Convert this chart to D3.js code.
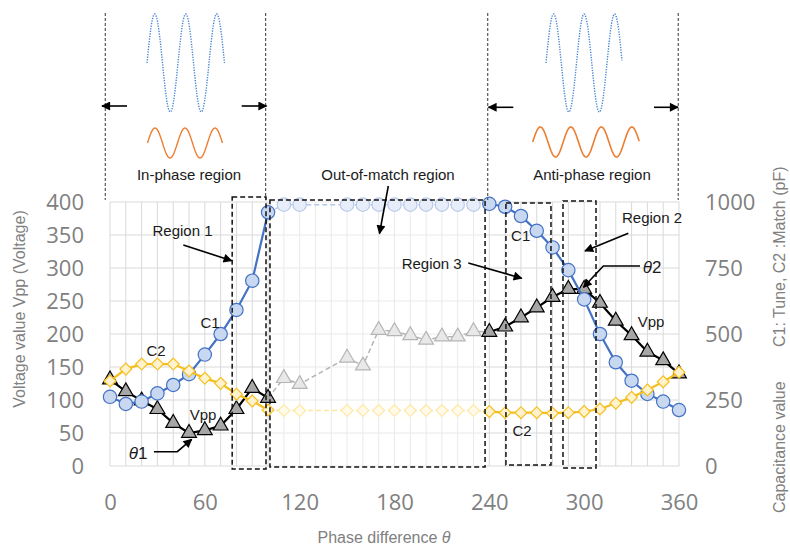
<!DOCTYPE html>
<html><head><meta charset="utf-8">
<script src="https://cdn.jsdelivr.net/npm/d3@7"></script>
<style>body{margin:0;background:#fff}svg{display:block}</style>
</head><body><svg id="c" width="790" height="549"></svg>
<script>
// ---- data ----
const theta = [0,10,20,30,40,50,60,70,80,90,100,110,120,150,160,170,180,190,200,210,220,230,240,250,260,270,280,290,300,310,320,330,340,350,360];
const vpp = [131,113,99,86,65,50,54,61,86,118,103, 133,124,164,152,206,204,198,191,196,196,204, 203,211,225,240,256,268,268,247,220,198,173,160,140];
const c1 = [262,235,244,275,307,348,422,500,591,702,961, 990,990,990,990,990,990,990,990,990,990,990, 993,982,947,891,828,742,631,500,393,323,273,244,212];
const c2 = [322,367,386,386,386,360,332,313,272,246,212, 210,210,210,210,210,210,210,210,210,210,210, 206,202,202,202,200,202,206,216,238,260,288,319,355];
const xTicks = [0,60,120,180,240,300,360];
const yLeftTicks = [0,50,100,150,200,250,300,350,400];
const yRightTicks = [0,250,500,750,1000];
const matchedEnd = 10, matchedStart = 22; // indices: solid 0..10 and 22..34, faded in between
const regionBoxes = [[77.3,98.7],[101.2,237.3],[250.5,279],[286.6,307.5]];
const regionDividers = [-3,98.5,239,359.5];

// ---- scales ----
const svg = d3.select('#c');
const x = d3.scaleLinear().domain([0,360]).range([110,679]);
const yL = d3.scaleLinear().domain([0,400]).range([466,202]);
const yR = d3.scaleLinear().domain([0,1000]).range([466,202]);

// defs
const defs = svg.append('defs');
defs.append('marker').attr('id','ah').attr('markerUnits','userSpaceOnUse')
  .attr('viewBox','0 0 10 10').attr('refX',9).attr('refY',5)
  .attr('markerWidth',11).attr('markerHeight',9).attr('orient','auto')
  .append('path').attr('d','M0,0 L10,5 L0,10 z').attr('fill','#000');

// grid
const grid = svg.append('g');
grid.selectAll('line.v').data(d3.range(0,361,10)).join('line')
  .attr('x1',d=>x(d)).attr('x2',d=>x(d)).attr('y1',yL(400)).attr('y2',yL(0))
  .attr('stroke','#d9d9d9').attr('stroke-width',1);
grid.selectAll('line.h').data(yLeftTicks).join('line')
  .attr('x1',x(0)).attr('x2',x(360)).attr('y1',d=>yL(d)).attr('y2',d=>yL(d))
  .attr('stroke','#d9d9d9').attr('stroke-width',1);

// out-of-match whitening overlay
svg.append('rect').attr('x',x(regionBoxes[1][0])).attr('y',yL(400)-2)
  .attr('width',x(regionBoxes[1][1])-x(regionBoxes[1][0])).attr('height',yL(0)-yL(400)+3)
  .attr('fill','#fff').attr('opacity',0.45);

// axes
const tickFont = "'Open Sans','Noto Sans',sans-serif";
function styleAxis(g){
  g.select('.domain').remove();
  g.selectAll('text').attr('fill','#808080').style('font-family',tickFont).style('font-size','22px');
}
svg.append('g').attr('transform',`translate(0,${yL(0)})`)
  .call(d3.axisBottom(x).tickValues(xTicks).tickFormat(d3.format('d')).tickSize(0).tickPadding(28)).call(styleAxis);
svg.append('g').attr('transform',`translate(${x(0)},0)`)
  .call(d3.axisLeft(yL).tickValues(yLeftTicks).tickFormat(d3.format('d')).tickSize(0).tickPadding(26)).call(styleAxis);
svg.append('g').attr('transform',`translate(${x(360)},0)`)
  .call(d3.axisRight(yR).tickValues(yRightTicks).tickFormat(d3.format('d')).tickSize(0).tickPadding(26)).call(styleAxis);

const titleFont = "'Liberation Sans',Arial,sans-serif";
svg.append('text').attr('x',384).attr('y',537).attr('text-anchor','middle').attr('dominant-baseline','central')
  .style('font-family',titleFont).style('font-size','16px').attr('fill','#808080')
  .html('Phase difference <tspan font-style="italic">θ</tspan>');
svg.append('text').attr('transform','translate(19,309) rotate(-90)').attr('text-anchor','middle').attr('dominant-baseline','central')
  .style('font-family',titleFont).style('font-size','16px').attr('fill','#808080').text('Voltage value Vpp (Voltage)');
svg.append('text').attr('transform','translate(779,513) rotate(-90)').attr('text-anchor','start').attr('dominant-baseline','central')
  .style('font-family',titleFont).style('font-size','16px').attr('fill','#808080').text('Capacitance value');
svg.append('text').attr('transform','translate(779,347) rotate(-90)').attr('text-anchor','start').attr('dominant-baseline','central')
  .style('font-family',titleFont).style('font-size','16px').attr('fill','#808080').text('C1: Tune, C2 :Match (pF)');

// ---- series ----
const idx = d3.range(theta.length);
const solidA = idx.filter(i=>i<=matchedEnd), solidB = idx.filter(i=>i>=matchedStart);
const faded = idx.filter(i=>i>=matchedEnd && i<=matchedStart);
const fadedPts = idx.filter(i=>i>matchedEnd && i<matchedStart);
const solidPts = idx.filter(i=>i<=matchedEnd || i>=matchedStart);

function series(vals, yS, st){
  const g = svg.append('g');
  const ln = d3.line().x(i=>x(theta[i])).y(i=>yS(vals[i]));
  g.append('path').attr('d',ln(faded)).attr('fill','none').attr('stroke',st.fl).attr('stroke-width',1.5).attr('stroke-dasharray','5,3');
  [solidA,solidB].forEach(s=>g.append('path').attr('d',ln(s)).attr('fill','none').attr('stroke',st.line).attr('stroke-width',2.2));
  const sym = d3.symbol().type(st.sym).size(st.size);
  g.selectAll('path.fp').data(fadedPts).join('path').attr('class','fp')
    .attr('transform',i=>`translate(${x(theta[i])},${yS(vals[i])})${st.rot||''}`).attr('d',sym)
    .attr('fill',st.ff).attr('stroke',st.fs).attr('stroke-width',1.2);
  g.selectAll('path.sp').data(solidPts).join('path').attr('class','sp')
    .attr('transform',i=>`translate(${x(theta[i])},${yS(vals[i])})${st.rot||''}`).attr('d',sym)
    .attr('fill',st.fill).attr('stroke',st.stroke).attr('stroke-width',1.2);
}
series(vpp, yL, {line:'#000', fl:'#b5b5b5', sym:d3.symbolTriangle, size:95, fill:'#a6a6a6', stroke:'#000', ff:'#e8e8e8', fs:'#b5b5b5'});
series(c1, yR, {line:'#4472c4', fl:'#b4c7e7', sym:d3.symbolCircle, size:140, fill:'#c9d8f1', stroke:'#4472c4', ff:'#e8eef9', fs:'#b9cbea'});
series(c2, yR, {line:'#f4bf1f', fl:'#ffe699', sym:d3.symbolSquare, size:70, rot:' rotate(45)', fill:'#fff2cc', stroke:'#f4bf1f', ff:'#fffaea', fs:'#ffe8a3'});

// ---- region boxes & dividers ----
const boxOff = [[-5,3],[-2,1],[1,-1],[-1,2]];
regionBoxes.forEach((b,k)=>{
  svg.append('rect').attr('x',x(b[0])).attr('y',yL(400)+boxOff[k][0])
    .attr('width',x(b[1])-x(b[0])).attr('height',yL(0)-yL(400)+boxOff[k][1]-boxOff[k][0])
    .attr('fill','none').attr('stroke','#111').attr('stroke-width',1.5).attr('stroke-dasharray','5,3');
});
regionDividers.forEach(d=>{
  svg.append('line').attr('x1',x(d)).attr('x2',x(d)).attr('y1',13).attr('y2',yL(400)-2)
    .attr('stroke','#333').attr('stroke-width',1).attr('stroke-dasharray','3,2');
});

// ---- waves ----
function wave(x0, period, n, cy, amp, color, dash, w){
  const pts = d3.range(0, n*period+0.01, 0.5).map(t=>[x0+t, cy - amp*Math.sin(2*Math.PI*t/period)]);
  svg.append('path').attr('d',d3.line()(pts)).attr('fill','none').attr('stroke',color)
    .attr('stroke-width',w).attr('stroke-dasharray',dash);
}
wave(147, 31, 2.5, 63, 49, '#4a86cf', '1.3,1.3', 1.4);
wave(147.5, 30, 2.5, 143, 15, '#ed7d31', null, 1.4);
wave(546, 30.5, 2.5, 63, 49, '#4a86cf', '1.3,1.3', 1.4);
wave(532.7, 30.5, 3.5, 142, 15, '#ed7d31', null, 1.6);

// ---- arrows ----
const arrows = [
  [[127,106],[102,106]], [[241.7,106],[266.5,106]],
  [[513.3,107.3],[488.5,107.3]], [[654,107.3],[678,107.3]],
  [[388.3,186],[379.5,233.5]], [[183.3,245],[231.7,260.7]],
  [[468.3,263],[521.7,278.3]], [[628.3,233.3],[585,251]],
  [[154,451.7],[177.3,451.7],[191.7,439.3]], [[640,266],[603.3,266],[583.5,287.3]]
];
arrows.forEach(a=>svg.append('path').attr('d',d3.line()(a)).attr('fill','none')
  .attr('stroke','#000').attr('stroke-width',1.6).attr('marker-end','url(#ah)'));

// ---- labels ----
const annFont = "'Liberation Sans',Arial,Helvetica,sans-serif";
const labels = [
  ['In-phase region',189,174],['Out-of-match region',388,174],['Anti-phase region',592,174],
  ['Region 1',182.5,230],['Region 3',431.7,263],['Region 2',652,217],
  ['C1',210,322],['C2',156,350],['Vpp',203,414],['C1',520.7,235],['Vpp',651,321],['C2',522,430]
];
labels.forEach(l=>svg.append('text').attr('x',l[1]).attr('y',l[2]).attr('text-anchor','middle')
  .attr('dominant-baseline','central').style('font-family',annFont).style('font-size','15px')
  .attr('fill','#1a1a1a').text(l[0]));
[['1',138,453],['2',652,267]].forEach(l=>svg.append('text').attr('x',l[1]).attr('y',l[2]).attr('text-anchor','middle')
  .attr('dominant-baseline','central').style('font-family',annFont).style('font-size','17px').attr('fill','#1a1a1a')
  .html(`<tspan font-style="italic">θ</tspan>${l[0]}`));
</script></body></html>
